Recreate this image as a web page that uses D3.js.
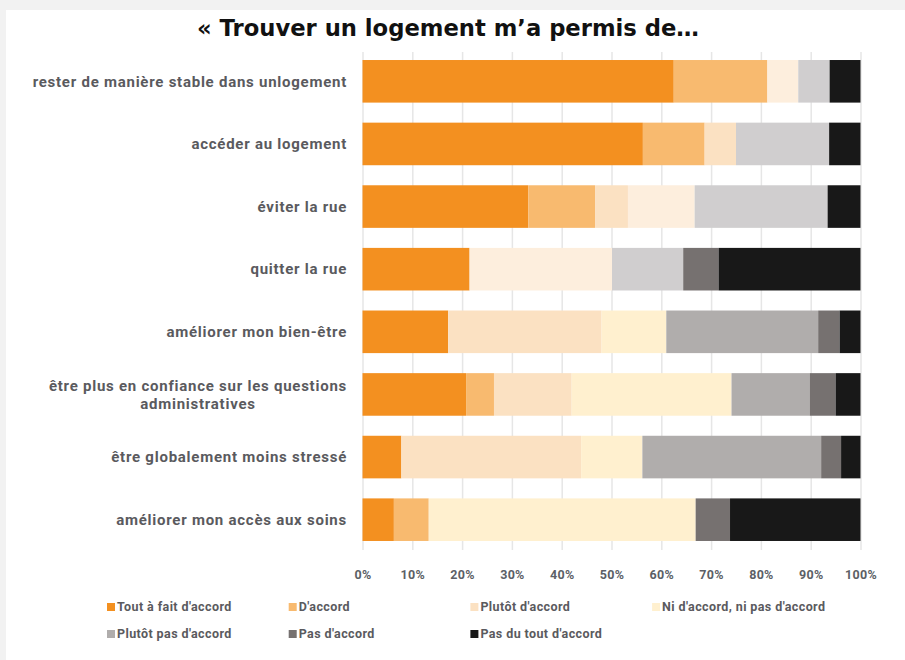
<!DOCTYPE html>
<html lang="fr">
<head>
<meta charset="utf-8">
<script src="https://cdn.jsdelivr.net/npm/d3@7"></script>
<style>
  html, body { margin: 0; padding: 0; background: #f2f2f2; }
  svg { display: block; }
</style>
</head>
<body>
<svg id="chart" width="905" height="660"></svg>
<script>
// Statements (one bar each), top to bottom
const categories = [
  "rester de manière stable dans unlogement",
  "accéder au logement",
  "éviter la rue",
  "quitter la rue",
  "améliorer mon bien-être",
  "être plus en confiance sur les questions\nadministratives",
  "être globalement moins stressé",
  "améliorer mon accès aux soins"
];

// Answer scale
const answers = [
  "Tout à fait d'accord",
  "D'accord",
  "Plutôt d'accord",
  "Ni d'accord, ni pas d'accord",
  "Plutôt pas d'accord",
  "Pas d'accord",
  "Pas du tout d'accord"
];

// Share of respondents (%) per answer, one value per statement
const toutAFaitDAccord = [62.5, 56.3, 33.3, 21.5, 17.2, 20.8, 7.8, 6.3];
const dAccord          = [18.8, 12.4, 13.4, 0,    0,    5.6,  0,    7.0];
const plutotDAccord    = [0,    6.3,  6.6,  0,    30.8, 15.6, 36.1, 0];
const niNi             = [6.2,  0,    13.4, 28.6, 13.0, 32.1, 12.3, 53.6];
const plutotPasDAccord = [6.3,  18.7, 26.7, 14.3, 30.5, 15.7, 35.9, 0];
const pasDAccord       = [0,    0,    0,    7.1,  4.3,  5.2,  4.0,  6.9];
const pasDuToutDAccord = [6.2,  6.3,  6.6,  28.5, 4.2,  5.0,  3.9,  26.2];

const xTicks = [0, 10, 20, 30, 40, 50, 60, 70, 80, 90, 100];

const seriesValues = [toutAFaitDAccord, dAccord, plutotDAccord, niNi,
                      plutotPasDAccord, pasDAccord, pasDuToutDAccord];

// Colours per answer
const tones      = ["#f39020", "#f8ba6f", "#fbe1c2", "#fff0cf", "#b0adac", "#767170", "#181818"];
// The first block of statements is shaded with lighter neutral tones
const lightTones = ["#f39020", "#f8ba6f", "#fbe1c2", "#fdeedd", "#d0cecf", "#767170", "#181818"];
const lightBlock = 4;

const table = categories.map((c, i) => {
  const row = { category: c, index: i };
  answers.forEach((a, j) => { row[a] = seriesValues[j][i]; });
  return row;
});

const svg = d3.select("#chart");

// White panel
svg.append("rect")
  .attr("x", 6).attr("y", 10)
  .attr("width", 899).attr("height", 650)
  .attr("fill", "#ffffff");

const x = d3.scaleLinear().domain([0, 100]).range([362.5, 860.5]);
const y = d3.scaleBand().domain(categories).range([50, 551])
  .paddingInner(0.32).paddingOuter(0.16);

const gridTop = 52, gridBottom = 550;

// Vertical gridlines with percentage labels
const axis = svg.append("g")
  .attr("transform", `translate(0,${gridBottom})`)
  .call(d3.axisBottom(x).tickValues(xTicks)
    .tickFormat(d => d + "%")
    .tickSize(-(gridBottom - gridTop))
    .tickPadding(20));
axis.select(".domain").remove();
axis.selectAll(".tick line")
  .attr("stroke", "#e6e6e6")
  .attr("stroke-width", 1.5);
axis.selectAll(".tick text")
  .attr("fill", "#5c5f66")
  .attr("font-family", "Roboto, sans-serif")
  .attr("font-weight", 700)
  .attr("font-size", 12.5)
  .attr("letter-spacing", 0.3);

// Stacked bars
const stacked = d3.stack().keys(answers)(table);

svg.append("g")
  .selectAll("g")
  .data(stacked)
  .join("g")
  .each(function (s, j) {
    d3.select(this).selectAll("rect")
      .data(s.filter(d => d[1] - d[0] > 0))
      .join("rect")
      .attr("x", d => x(d[0]))
      .attr("y", d => y(d.data.category))
      .attr("width", d => x(d[1]) - x(d[0]))
      .attr("height", y.bandwidth())
      .attr("fill", d => (d.data.index < lightBlock ? lightTones : tones)[j]);
  });

// Category labels, right-aligned; extra lines are centred under the first one
const labelRight = 347;
const labels = svg.append("g")
  .attr("font-family", "Roboto, sans-serif")
  .attr("font-weight", 700)
  .attr("font-size", 15)
  .attr("letter-spacing", 0.75)
  .attr("fill", "#5a5a5e");

categories.forEach(c => {
  const lines = c.split("\n");
  const lineH = 18;
  const cy = y(c) + y.bandwidth() / 2;
  const y0 = cy - (lines.length - 1) * lineH / 2;
  const first = labels.append("text")
    .attr("x", labelRight)
    .attr("y", y0)
    .attr("dy", "0.35em")
    .attr("text-anchor", "end")
    .text(lines[0]);
  const w = first.node().getComputedTextLength();
  lines.slice(1).forEach((l, k) => {
    labels.append("text")
      .attr("x", labelRight - w / 2)
      .attr("y", y0 + (k + 1) * lineH)
      .attr("dy", "0.35em")
      .attr("text-anchor", "middle")
      .text(l);
  });
});

// Title
svg.append("text")
  .attr("x", 448)
  .attr("y", 36)
  .attr("text-anchor", "middle")
  .attr("font-family", "'DejaVu Sans', sans-serif")
  .attr("font-weight", 700)
  .attr("font-size", 22.5)
  .attr("textLength", 502)
  .attr("lengthAdjust", "spacingAndGlyphs")
  .attr("fill", "#111111")
  .text("« Trouver un logement m’a permis de…");

// Legend: four columns, two rows
const legend = svg.append("g")
  .attr("font-family", "Roboto, sans-serif")
  .attr("font-weight", 700)
  .attr("font-size", 12.5)
  .attr("letter-spacing", 0.4)
  .attr("fill", "#5a5a5e");

answers.forEach((a, j) => {
  const col = j % 4, row = Math.floor(j / 4);
  const lx = 107 + col * 181.7;
  const ly = 607 + row * 27;
  legend.append("rect")
    .attr("x", lx).attr("y", ly - 4)
    .attr("width", 8).attr("height", 8)
    .attr("fill", tones[j]);
  legend.append("text")
    .attr("x", lx + 10)
    .attr("y", ly)
    .attr("dy", "0.35em")
    .text(a);
});
</script>
</body>
</html>
